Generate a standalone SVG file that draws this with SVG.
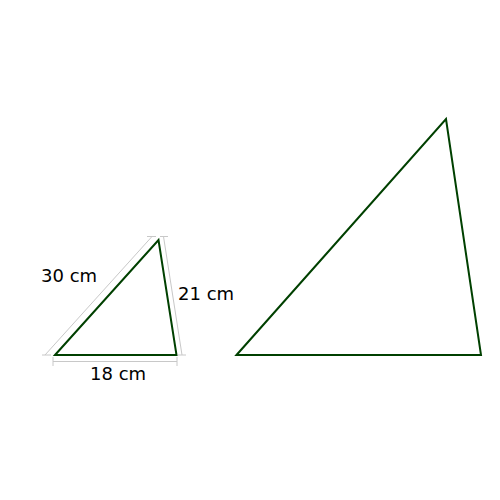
<svg xmlns="http://www.w3.org/2000/svg" width="500" height="500" viewBox="0 0 500 500">
<style>
.tri{fill:none;stroke:#004000;stroke-width:2;stroke-linejoin:miter}
.dim{fill:none;stroke:#c8c8c8;stroke-width:1}
.lbl{font-family:"DejaVu Sans",Verdana,sans-serif;font-size:18px;fill:#000}
</style>
<rect width="500" height="500" fill="#fff"/>
<g id="connectors">
<path class="dim" d="M45,355 L152,236.5"/>
<path class="dim" d="M42,355 H51 M147,236.5 H156"/>
<path class="dim" d="M53,361.5 H177"/>
<path class="dim" d="M53,357 V366 M177,357 V366"/>
<path class="dim" d="M163.5,236.5 L182,355"/>
<path class="dim" d="M160,236.5 H168 M178,355 H186"/>
</g>
<g id="small-triangle">
<polygon class="tri" points="55,355 158.5,240 176.5,355"/>
</g>
<g id="large-triangle">
<polygon class="tri" points="236.5,355 446,119 481,355"/>
</g>
<g id="labels">
<text class="lbl" x="41" y="282">30 cm</text>
<text class="lbl" x="178" y="300">21 cm</text>
<text class="lbl" x="90" y="380">18 cm</text>
</g>
</svg>
